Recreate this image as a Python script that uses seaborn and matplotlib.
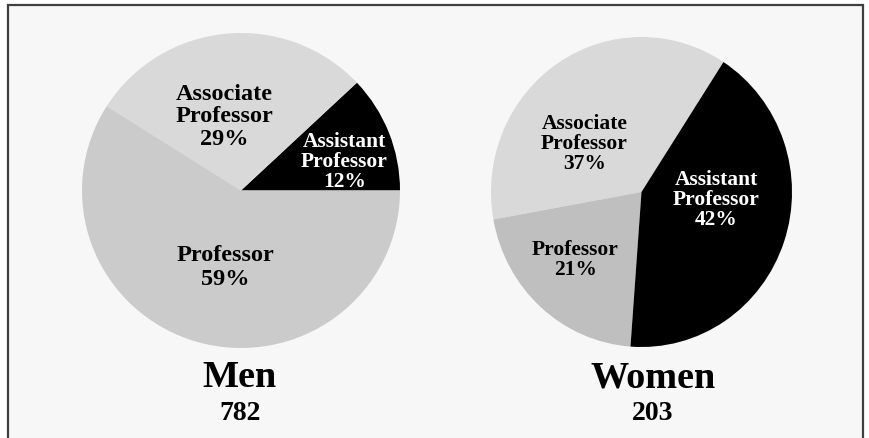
import numpy as np
import matplotlib.pyplot as plt
import seaborn as sns
from matplotlib.patches import Rectangle

# data
groups = ['Men', 'Women']
totals = [782, 203]
men_labels = ['Assistant\nProfessor', 'Associate\nProfessor', 'Professor']
men_pct = [12, 29, 59]
women_labels = ['Associate\nProfessor', 'Professor', 'Assistant\nProfessor']
women_pct = [37, 21, 42]

sns.set_style('white')
plt.rcParams['font.family'] = ['Liberation Serif', 'DejaVu Serif']
plt.rcParams['font.weight'] = 'bold'
plt.rcParams['text.color'] = 'black'

W, H = 870, 438
fig = plt.figure(figsize=(W / 100, H / 100), dpi=100)
fig.patch.set_facecolor('white')

# framed panel
fig.patches.append(Rectangle((8 / W, -0.05), 855 / W, 1.05 - 5 / H,
                             transform=fig.transFigure, facecolor='#f7f7f7',
                             edgecolor='#3f3f3f', linewidth=1.6, zorder=-5))


def px_axes(x0, x1, y0, y1):
    ax = fig.add_axes([x0 / W, (H - y1) / H, (x1 - x0) / W, (y1 - y0) / H])
    ax.set_zorder(2)
    return ax


def draw(ax, labels, pct, colors, start, txtcols, place, sizes, spacing):
    wedges, _ = ax.pie(pct, colors=colors, startangle=start, counterclock=True,
                       wedgeprops=dict(linewidth=0))
    ax.set_aspect('auto')
    ax.set_xlim(-1, 1)
    ax.set_ylim(-1, 1)
    ax.axis('off')
    for w, lab, p, c, (r, sh), fs, ls in zip(wedges, labels, pct, txtcols, place,
                                              sizes, spacing):
        a = np.deg2rad((w.theta1 + w.theta2) / 2 + sh)
        ax.text(r * np.cos(a), r * np.sin(a), f'{lab}\n{p}%', ha='center', va='center',
                color=c, fontsize=fs, fontweight='bold', linespacing=ls)


ax1 = px_axes(82, 400, 33, 348)
draw(ax1, men_labels, men_pct, ['#000000', '#d9d9d9', '#cbcbcb'], 0,
     ['white', 'black', 'black'],
     [(0.675, -6), (0.48, 7), (0.5, 5)], [15.5, 17.5, 17.5], [1.0, 1.1, 1.2])

ax2 = px_axes(491, 792, 37, 347)
draw(ax2, women_labels, women_pct, ['#d9d9d9', '#bfbfbf', '#000000'], 57,
     ['black', 'black', 'white'],
     [(0.49, 17), (0.62, -3), (0.5, 13)], [15.5, 15.5, 15.5], [1.0, 1.05, 1.0])

for g, n, cx in zip(groups, totals, [240, 653]):
    fig.text(cx / W, 1 - 387 / H, g, ha='center', va='baseline',
             fontsize=27.5, fontweight='bold', color='black')
    fig.text(cx / W, 1 - 420 / H, str(n), ha='center', va='baseline',
             fontsize=20, fontweight='bold', color='black')

fig.savefig('out.png', dpi=100)
